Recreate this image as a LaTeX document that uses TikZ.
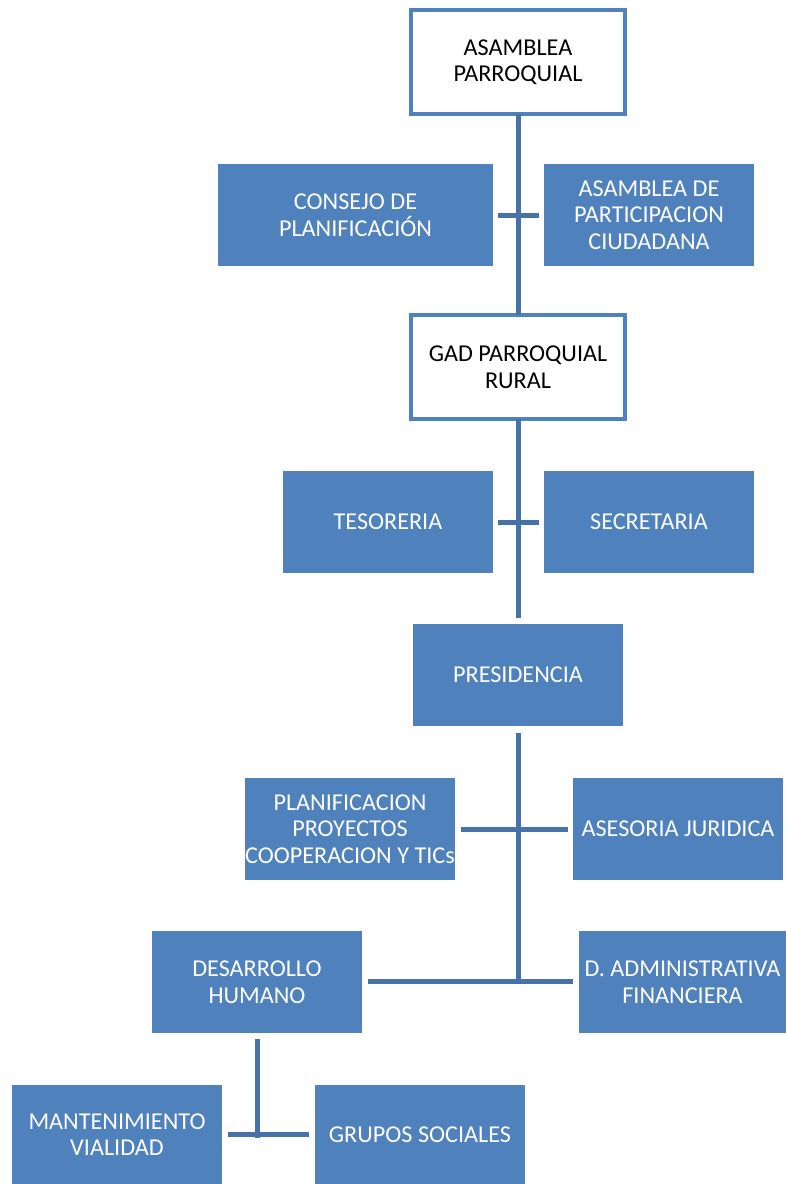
\documentclass[tikz,border=0pt]{standalone}
\usepackage{fontspec}
\setmainfont{Carlito}
\definecolor{boxblue}{HTML}{4F81BD}
\definecolor{lineblue}{HTML}{4672AA}
\begin{document}
\begin{tikzpicture}[x=1pt,y=-1pt,
  base/.style={rectangle,inner sep=0pt,outer sep=0pt,align=center,font=\fontsize{24.2}{26.5}\selectfont},
  outlinebox/.style={base,draw=boxblue,line width=4pt,fill=white,text=black,minimum width=214pt,minimum height=104pt},
  filledbox/.style={base,fill=boxblue,text=white,minimum width=210pt,minimum height=102pt},
  conn/.style={draw=lineblue,line width=5pt}]
\useasboundingbox (0,0) rectangle (786,1184);
\node[outlinebox] (asam) at (518,62) {ASAMBLEA\\PARROQUIAL};
\node[filledbox,minimum width=275pt] (consejo) at (355.5,215) {CONSEJO DE\\PLANIFICACIÓN};
\node[filledbox] (partic) at (649,215) {ASAMBLEA DE\\PARTICIPACION\\CIUDADANA};
\node[outlinebox] (gad) at (518,367) {GAD PARROQUIAL\\RURAL};
\node[filledbox] (tes) at (388,522) {TESORERIA};
\node[filledbox] (sec) at (649,522) {SECRETARIA};
\node[filledbox] (pres) at (518,675) {PRESIDENCIA};
\node[filledbox] (plan) at (350,829) {PLANIFICACION\\PROYECTOS\\COOPERACION Y TICs};
\node[filledbox] (ases) at (678,829) {ASESORIA JURIDICA};
\node[filledbox] (desa) at (257,982) {DESARROLLO\\HUMANO};
\node[filledbox,minimum width=207pt] (dadm) at (682.5,982) {D. ADMINISTRATIVA\\FINANCIERA};
\node[filledbox,minimum height=99pt] (mant) at (117,1134.5) {MANTENIMIENTO\\VIALIDAD};
\node[filledbox,minimum height=99pt] (grup) at (420,1134.5) {GRUPOS SOCIALES};
% trunk 1
\draw[conn] (asam.south) -- (gad.north);
\draw[conn] ([xshift=5pt]consejo.east) -- ([xshift=-5pt]partic.west);
% trunk 2
\coordinate (t2end) at (518,618);
\draw[conn] (gad.south) -- (t2end);
\draw[conn] ([xshift=5pt]tes.east) -- ([xshift=-5pt]sec.west);
% trunk 3
\coordinate (t3top) at ([yshift=-7pt]pres.south);
\coordinate (t3end) at (518,983.5);
\draw[conn] (t3top) -- (t3end);
\draw[conn] ([xshift=6pt]plan.east) -- ([xshift=-5pt]ases.west);
\draw[conn] ([xshift=6pt,yshift=1pt]desa.east) -- ([xshift=-6pt,yshift=1pt]dadm.west);
% bottom
\coordinate (b4end) at (257,1137.5);
\draw[conn] ([yshift=-6pt]desa.south) -- (b4end);
\draw[conn] ([xshift=6pt]mant.east) -- ([xshift=-6pt]grup.west);
\end{tikzpicture}
\end{document}
